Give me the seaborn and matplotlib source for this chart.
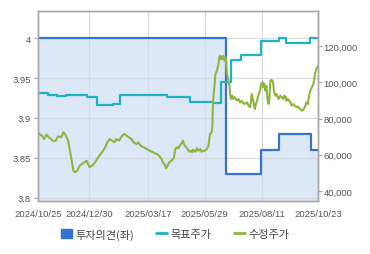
import numpy as np
import pandas as pd
import matplotlib
matplotlib.use("Agg")
import matplotlib.pyplot as plt
import seaborn as sns
from matplotlib.patches import Patch
from matplotlib.lines import Line2D
from matplotlib.ticker import FuncFormatter

START = "2024-10-25"

# 투자의견 (left axis), step series: days since START
opinion_days = [0, 244, 289, 312, 354, 363]
opinion_vals = [4.0, 3.83, 3.86, 3.88, 3.86, 3.86]

# 목표주가 (right axis), step series
target_days = [0, 13, 25, 36, 64, 76, 97, 106, 167, 197, 227, 237, 250, 263, 289, 313, 322, 353, 363]
target_vals = [94000, 93200, 92600, 93100, 92000, 87600, 88000, 93000, 92000, 88900, 88300,
               100300, 112000, 115300, 122700, 124300, 121800, 124300, 124300]

# 수정주가 (right axis)
price_days = [0, 5, 8, 11, 14, 18, 20, 23, 26, 30, 33, 35, 37, 39, 41, 44, 46, 48, 51, 54,
              57, 60, 63, 65, 67, 70, 74, 78, 83, 87, 90, 93, 96, 99, 102, 105, 109, 112, 115, 118,
              121, 124, 128, 130, 133, 137, 141, 145, 149, 154, 157, 160, 162, 165, 166, 168, 170, 173, 176, 178,
              180, 182, 184, 188, 189, 192, 194, 196, 198, 200, 201, 204, 206, 208, 210, 212, 214, 216, 219, 221,
              223, 225, 226, 227, 229, 230, 232, 234, 235, 236, 237, 238, 239, 240, 242, 243, 244, 245, 246, 248,
              249, 250, 252, 253, 255, 258, 260, 262, 264, 266, 268, 271, 273, 275, 276, 277, 278, 280, 281, 282,
              284, 285, 286, 288, 289, 291, 292, 293, 295, 296, 298, 299, 300, 301, 302, 304, 305, 306, 308, 309,
              311, 312, 314, 316, 318, 319, 321, 322, 324, 327, 329, 331, 333, 335, 337, 340, 342, 344, 346, 348,
              350, 351, 353, 355, 357, 358, 359, 361, 363]
price_vals = [72000, 70500, 68700, 71100, 69600, 68300, 67400, 67800, 70200, 69600, 72400, 71500, 69600, 67800, 63200, 55800, 51200, 50300, 51200, 54000,
              54900, 55800, 56700, 54900, 53100, 54000, 55800, 58600, 61400, 64100, 66900, 68700, 67800, 66900, 68700, 67800, 70500, 71500, 70500, 69600,
              68700, 66900, 65900, 66900, 65000, 64100, 63200, 62200, 61400, 60400, 59500, 57700, 55800, 54000, 52500, 54000, 55800, 56700, 58000, 63200,
              64100, 63600, 65000, 67800, 65900, 64100, 63200, 61700, 62200, 61400, 62800, 61700, 63600, 62200, 63200, 61700, 62200, 62200, 63200, 65000,
              71500, 72400, 75300, 89800, 99000, 104600, 106400, 110100, 113800, 114600, 112800, 114100, 112800, 114600, 111900, 113800, 111000, 104600, 102700, 99000,
              93500, 90800, 92600, 90800, 91700, 89800, 90800, 88900, 89800, 88400, 88000, 88900, 87100, 86200, 88900, 93500, 91700, 88000, 85200, 87100,
              89800, 91700, 93500, 95300, 99000, 100000, 97200, 99400, 95300, 98100, 88900, 88000, 90800, 100000, 101200, 100900, 99000, 94500, 92600, 93500,
              91700, 90800, 92600, 91700, 90800, 92600, 92000, 89800, 90800, 88900, 87100, 88000, 87100, 86200, 86500, 85200, 84300, 84900, 86500, 88900,
              88000, 91700, 95300, 97200, 99000, 100900, 104600, 107300, 109100]

tick_dates = ["2024-10-25", "2024-12-30", "2025-03-17", "2025-05-29", "2025-08-11", "2025-10-23"]
tick_labels = ["2024/10/25", "2024/12/30", "2025/03/17", "2025/05/29", "2025/08/11", "2025/10/23"]
left_ticks = [3.8, 3.85, 3.9, 3.95, 4.0]
left_tick_labels = ["3.8", "3.85", "3.9", "3.95", "4"]
right_ticks = [40000, 60000, 80000, 100000, 120000]
legend_labels = ["투자의견(좌)", "목표주가", "수정주가"]

start = pd.Timestamp(START)
op = pd.DataFrame({"date": start + pd.to_timedelta(opinion_days, unit="D"), "v": opinion_vals})
tg = pd.DataFrame({"date": start + pd.to_timedelta(target_days, unit="D"), "v": target_vals})
pr = pd.DataFrame({"date": start + pd.to_timedelta(price_days, unit="D"), "v": price_vals})

sns.set_theme(style="white")
plt.rcParams["font.family"] = ["Liberation Sans", "DejaVu Sans"]

BLUE = "#3374d1"
FILL = "#dce7f8"
TEAL = "#1fb3c1"
GREEN = "#8db63e"
GRAY = "#a8a8a8"
TXT = "#555555"

fig = plt.figure(figsize=(3.70, 2.55), dpi=100)
ax = fig.add_axes([38 / 370, 1 - 202 / 255, 280 / 370, 190 / 255])
ax.set_axisbelow("line")

ax.fill_between(op["date"], op["v"], 3.7, step="post", color=FILL, linewidth=0, zorder=1)
sns.lineplot(data=op, x="date", y="v", ax=ax, drawstyle="steps-post", color=BLUE,
             linewidth=1.6, zorder=3, legend=False)
ax.set_ylim(3.796, 4.034)
ax.set_xlim(start, start + pd.Timedelta(days=363))
ax.set_yticks(left_ticks)
ax.set_yticklabels(left_tick_labels)
ax.set_xticks(pd.to_datetime(tick_dates))
ax.set_xticklabels(tick_labels)
ax.grid(True, color="#d6dbe3", linewidth=0.8)
ax.set_xlabel("")
ax.set_ylabel("")

ax2 = ax.twinx()
sns.lineplot(data=tg, x="date", y="v", ax=ax2, drawstyle="steps-post", color=TEAL,
             linewidth=1.6, legend=False)
sns.lineplot(data=pr, x="date", y="v", ax=ax2, color=GREEN, linewidth=1.5, legend=False)
ax2.set_ylim(34500, 139300)
ax2.set_yticks(right_ticks)
ax2.yaxis.set_major_formatter(FuncFormatter(lambda v, p: f"{int(v):,}"))
ax2.set_xlim(start, start + pd.Timedelta(days=363))
ax2.grid(False)
ax2.set_ylabel("")

for a in (ax, ax2):
    for s in a.spines.values():
        s.set_color(GRAY)
        s.set_linewidth(1.0)
ax.tick_params(axis="both", which="both", length=3, width=0.8, color=GRAY,
               labelsize=6.8, labelcolor=TXT, pad=2)
ax.tick_params(axis="x", pad=3)
ax2.tick_params(axis="y", length=3, width=0.8, color=GRAY, labelsize=6.8,
                labelcolor=TXT, pad=1)

handles = [Patch(facecolor=BLUE, edgecolor=BLUE),
           Line2D([0], [0], color=TEAL, linewidth=2),
           Line2D([0], [0], color=GREEN, linewidth=2)]
leg = fig.legend(handles, legend_labels, loc="center", bbox_to_anchor=(175 / 370, 1 - 235 / 255),
                 ncol=3, frameon=False, handlelength=1.0, handleheight=0.9, handletextpad=0.3,
                 columnspacing=2.0, prop={"family": ["Noto Sans CJK KR", "DejaVu Sans"], "size": 8})
for t in leg.get_texts():
    t.set_color("#444444")

fig.savefig("out.png", dpi=100)
